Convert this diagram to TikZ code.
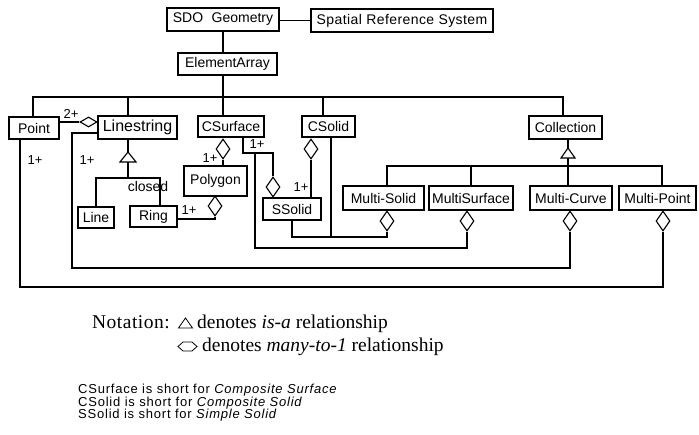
\documentclass[tikz,border=0pt]{standalone}
\usepackage{fontspec}
\setmainfont{Liberation Serif}
\setsansfont{Liberation Sans}
\usetikzlibrary{shapes.geometric}
\begin{document}
\begin{tikzpicture}[x=1pt,y=-1pt,
  box/.style={draw,line width=2.8pt,inner sep=0pt,fill=white,font=\sffamily\fontsize{14}{16}\selectfont},
  conn/.style={line width=1.25pt},
  vdia/.style={draw,line width=1.1pt,shape=diamond,inner sep=0pt,minimum width=14pt,minimum height=20pt,fill=white},
  hdia/.style={draw,line width=1.1pt,shape=diamond,inner sep=0pt,minimum width=17pt,minimum height=10pt,fill=white},
  lbl/.style={inner sep=0pt,font=\sffamily\fontsize{13}{15}\selectfont},
  legend/.style={inner sep=0pt,anchor=base west,font=\rmfamily\fontsize{19.5}{22}\selectfont},
  note/.style={inner sep=0pt,anchor=base west,font=\sffamily\fontsize{13}{15}\selectfont\addfontfeatures{LetterSpace=6}},
]
\fill[white] (0,0) rectangle (699,434);
\useasboundingbox (0,0) rectangle (699,434);

% boxes
\node[box,minimum width=112pt,minimum height=23pt] (sdo) at (223,19.5) {SDO\hspace{0.6em}Geometry};
\node[box,minimum width=182pt,minimum height=23pt,font=\sffamily\fontsize{14}{16}\selectfont\addfontfeatures{LetterSpace=3}] (srs) at (402,20.5) {Spatial Reference System};
\node[box,minimum width=99pt,minimum height=22pt] (ea) at (227.5,64) {ElementArray};
\node[box,minimum width=50pt,minimum height=22pt] (point) at (34,128) {Point};
\node[box,minimum width=79pt,minimum height=23pt,font=\sffamily\fontsize{16}{18}\selectfont] (ls) at (137.5,127.5) {Linestring};
\node[box,minimum width=66pt,minimum height=21pt] (csurf) at (231,126.5) {CSurface};
\node[box,minimum width=53pt,minimum height=21pt] (csolid) at (328.5,126.5) {CSolid};
\node[box,minimum width=73pt,minimum height=23pt] (coll) at (565.5,127.5) {Collection};
\node[box,minimum width=36pt,minimum height=21pt] (line) at (96,217.5) {Line};
\node[box,minimum width=47pt,minimum height=21pt] (ring) at (153.5,216.5) {Ring};
\node[box,minimum width=63pt,minimum height=30pt] (poly) at (215.5,181) {Polygon};
\node[box,minimum width=58pt,minimum height=22pt] (ssolid) at (292,209) {SSolid};
\node[box,minimum width=81pt,minimum height=24pt] (msolid) at (383.5,198) {Multi-Solid};
\node[box,minimum width=84pt,minimum height=24pt] (msurf) at (471,198) {MultiSurface};
\node[box,minimum width=82pt,minimum height=24pt] (mcurve) at (571,198) {Multi-Curve};
\node[box,minimum width=77pt,minimum height=24pt] (mpoint) at (657.5,198) {Multi-Point};

% top connections
\draw[conn] (sdo.east |- srs.west) -- (srs.west);
\draw[conn] (sdo.south) -- (sdo.south |- ea.north);
\coordinate (bus) at (223,97);
\coordinate (bL) at (33,97);
\coordinate (bLs) at (128,97);
\coordinate (bCs) at (323,97);
\coordinate (bR) at (563,97);
\draw[conn] (sdo.south |- ea.south) -- (bus);
\draw[conn] (bL |- point.north) -- (bL) -- (bR) -- (bR |- coll.north);
\draw[conn] (bLs) -- (bLs |- ls.north);
\draw[conn] (bus) -- (bus |- csurf.north);
\draw[conn] (bCs) -- (bCs |- csolid.north);

% Point - Linestring (2+)
\node[hdia] (d2) at (88.5,122) {};
\draw[conn] (point.east |- d2.west) -- (d2.west);
\node[lbl] (l2) at (71,114) {2+};

% Linestring -> Multi-Curve
\coordinate (c1) at (72,133);
\coordinate (c2) at (72,268);
\node[vdia] (dmc) at (570,221) {};
\draw[conn] (ls.west |- c1) -- (c1) -- (c2) -- (c2 -| dmc.south) -- (dmc.south);
\node[lbl] (l1b) at (87,160) {1+};

% Point -> Multi-Point
\coordinate (p1) at (20,287);
\node[vdia] (dmp) at (663,221) {};
\draw[conn] (point.south -| p1) -- (p1) -- (p1 -| dmp.south) -- (dmp.south);
\node[lbl] (l1a) at (35,160) {1+};

% Linestring is-a Line / Ring
\coordinate (t1) at (128,152);
\coordinate (t1b) at (128,162);
\coordinate (h1) at (128,178);
\coordinate (h1r) at (160,178);
\draw[conn] (bLs |- ls.south) -- (t1);
\draw[conn] (t1b) -- (h1);
\draw[conn] (line.north) -- (line.north |- h1) -- (h1r) -- (h1r |- ring.north);
\draw[line width=1.1pt,fill=white] (t1) -- ++(-8,10) -- ++(16,0) -- cycle;
\node[lbl,font=\sffamily\fontsize{14}{16}\selectfont] (lclosed) at (148,186) {closed};

% CSurface -> Polygon
\node[vdia] (dcp) at (223,149) {};
\draw[conn] (dcp.south) -- (dcp.south |- poly.north);
\node[lbl] (l1c) at (210,158) {1+};

% Polygon -> Ring
\node[vdia] (dpr) at (215,206) {};
\coordinate (rr) at (178,219);
\draw[conn] (dpr.south) -- (dpr.south |- rr) -- (rr -| ring.east);
\node[lbl] (l1d) at (189,210) {1+};

% CSurface -> SSolid and -> MultiSurface
\coordinate (cs1) at (243,153);
\coordinate (cs2) at (273,153);
\coordinate (cs3) at (255,153);
\coordinate (cs4) at (255,248);
\node[vdia] (dcs) at (273,187) {};
\node[vdia] (dms) at (467,221) {};
\draw[conn] (csurf.south -| cs1) -- (cs1) -- (cs2) -- (dcs.north);
\draw[conn] (cs3) -- (cs4) -- (cs4 -| dms.south) -- (dms.south);
\node[lbl] (l1e) at (257,144) {1+};

% CSolid -> SSolid
\node[vdia] (dcss) at (311,149) {};
\draw[conn] (dcss.south) -- (dcss.south |- ssolid.north);
\node[lbl] (l1f) at (301,187) {1+};

% CSolid / SSolid -> Multi-Solid
\coordinate (cm1) at (331,237);
\coordinate (sm1) at (292,237);
\node[vdia] (dmso) at (387,221) {};
\draw[conn] (csolid.south -| cm1) -- (cm1);
\draw[conn] (ssolid.south) -- (sm1) -- (sm1 -| dmso.south) -- (dmso.south);

% Collection is-a multis
\coordinate (t2) at (568,148);
\coordinate (t2b) at (568,158);
\coordinate (h2l) at (387,166);
\coordinate (h2r) at (662,166);
\draw[conn] (coll.south -| t2) -- (t2);
\draw[conn] (t2b) -- (t2b |- mcurve.north);
\draw[conn] (h2l |- msolid.north) -- (h2l) -- (h2r) -- (h2r |- mpoint.north);
\draw[conn] (msurf.north |- h2l) -- (msurf.north);
\draw[line width=1.1pt,fill=white] (t2) -- ++(-7,10) -- ++(14,0) -- cycle;

% legend
\node[legend,font=\rmfamily\fontsize{19.5}{22}\selectfont\addfontfeatures{LetterSpace=2.5}] (nt) at (92,328) {Notation:};
\draw[line width=0.8pt] (185.5,318) -- (178.5,328) -- (192.5,328) -- cycle;
\node[legend] (n1) at (197,328) {denotes \textit{is-a} relationship};
\draw[line width=0.8pt] (178,346.5) -- (183,342) -- (192,342) -- (197,346.5) -- (192,351) -- (183,351) -- cycle;
\node[legend] (n2) at (202,351) {denotes \textit{many-to-1} relationship};

\node[note] (f1) at (78,393) {CSurface is short for \textit{Composite Surface}};
\node[note] (f2) at (78,406) {CSolid is short for \textit{Composite Solid}};
\node[note] (f3) at (78,418) {SSolid is short for \textit{Simple Solid}};
\end{tikzpicture}
\end{document}
